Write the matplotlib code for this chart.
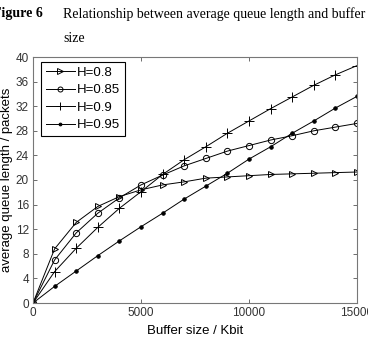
import numpy as np
import matplotlib.pyplot as plt

plt.rcParams['font.family'] = ['Liberation Sans', 'DejaVu Sans']

buffer_kbit = [0, 1000, 2000, 3000, 4000, 5000, 6000, 7000, 8000,
               9000, 10000, 11000, 12000, 13000, 14000, 15000]
h08 = [0, 8.8, 13.1, 15.7, 17.3, 18.4, 19.2, 19.7, 20.3, 20.5, 20.7, 20.9, 21.0, 21.1, 21.2, 21.3]
h085 = [0, 7.0, 11.4, 14.6, 17.1, 19.2, 20.8, 22.3, 23.5, 24.7, 25.6, 26.5, 27.2, 28.0, 28.6, 29.2]
h09 = [0, 5.1, 8.9, 12.3, 15.4, 18.1, 20.9, 23.3, 25.4, 27.6, 29.6, 31.6, 33.5, 35.4, 37.1, 38.6]
h095 = [0, 2.7, 5.2, 7.7, 10.1, 12.4, 14.6, 16.9, 19.0, 21.1, 23.4, 25.4, 27.6, 29.6, 31.7, 33.6]

series = [
    ("H=0.8", h08, dict(marker='>', markerfacecolor='none', markersize=5)),
    ("H=0.85", h085, dict(marker='o', markerfacecolor='none', markersize=4.5)),
    ("H=0.9", h09, dict(marker='+', markersize=7)),
    ("H=0.95", h095, dict(marker='.', markersize=5)),
]

fig = plt.figure(figsize=(3.68, 3.46), dpi=100)
ax = fig.add_axes([33 / 368, 1 - 303 / 346, 324 / 368, 246 / 346])

for label, vals, style in series:
    ax.plot(buffer_kbit, vals, color='black', linewidth=0.7,
            markeredgewidth=0.7, label=label, **style)

ax.set_xlim(0, 15000)
ax.set_ylim(0, 40)
ax.set_xticks([0, 5000, 10000, 15000])
ax.set_yticks(np.arange(0, 41, 4))
ax.tick_params(direction='in', top=True, right=True, labelsize=8.5,
               length=3, width=0.6, colors='#555555', labelcolor='#333333', pad=3)
for s in ax.spines.values():
    s.set_color('#777777')
    s.set_linewidth(0.8)

ax.set_xlabel('Buffer size / Kbit', fontsize=9.5, labelpad=4)
ax.set_ylabel('average queue length / packets', fontsize=9.5, labelpad=2)

leg = ax.legend(loc='upper left', bbox_to_anchor=(8 / 324, 1 - 5 / 246),
                fontsize=9.5, fancybox=False, framealpha=1,
                edgecolor='black', borderaxespad=0, handlelength=2.2,
                handletextpad=0.2, labelspacing=0.4, borderpad=0.35,
                markerscale=0.8)
leg.get_frame().set_linewidth(0.8)

fig.text(-0.02, 0.96, 'Figure 6', fontsize=10, fontweight='bold',
         family='Liberation Serif', va='center')
fig.text(63 / 368, 0.96, 'Relationship between average queue length and buffer',
         fontsize=10, family='Liberation Serif', va='center')
fig.text(63 / 368, 0.89, 'size', fontsize=10, family='Liberation Serif', va='center')

fig.savefig('out.png', dpi=100)
